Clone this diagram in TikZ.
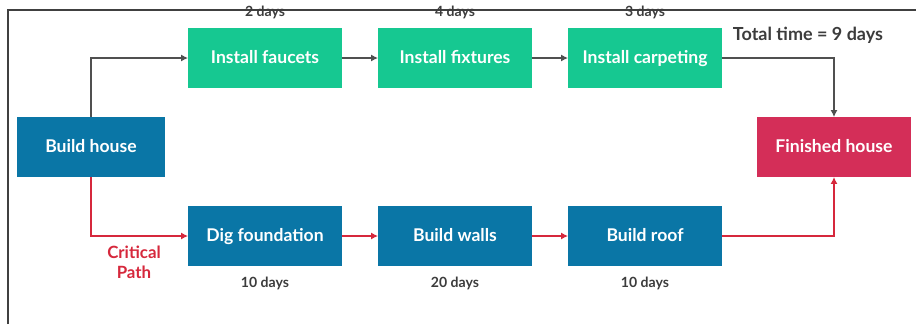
\documentclass[tikz,border=0pt]{standalone}
\usepackage{fontspec}
\setmainfont{Lato}
\usetikzlibrary{arrows.meta}
\definecolor{taskgreen}{RGB}{22,200,145}
\definecolor{taskblue}{RGB}{10,118,166}
\definecolor{donered}{RGB}{212,46,88}
\definecolor{critred}{RGB}{214,40,60}
\definecolor{linegray}{RGB}{80,80,80}
\definecolor{textgray}{RGB}{60,60,60}
\tikzset{
	task/.style={draw=none, minimum width=3.83cm, minimum height=1.48cm, text height=1.6ex, text depth=0ex, text=white, font=\bfseries\fontsize{12.5}{15}\selectfont},
	greentask/.style={task, fill=taskgreen},
	bluetask/.style={task, fill=taskblue},
	days/.style={text=textgray, text height=1.6ex, text depth=0.4ex, font=\bfseries\fontsize{10}{12}\selectfont},
	flow/.style={draw=linegray, line width=1.2pt, -{Latex[length=5pt,width=5pt]}},
	critflow/.style={draw=critred, line width=1.2pt, -{Latex[length=5pt,width=5pt]}}
}

\begin{document}
\begin{tikzpicture}[x=0.025cm, y=-0.025cm]
		%%%%% START %%%%%
		\useasboundingbox (0, 0) rectangle (916, 324);
		
		\draw[line width=0.8pt, color=black!75] (8, 324) -- (8, 10) -- (916, 10);
		
		\node[bluetask, minimum width=3.7cm] (build) at (91, 147) {Build house};
		\node[task, fill=donered] (finish) at (834, 147) {Finished house};
		
		\node[greentask] (faucets) at (265, 58) {Install faucets};
		\node[greentask] (fixtures) at (455, 58) {Install fixtures};
		\node[greentask] (carpet) at (645, 58) {Install carpeting};
		
		\node[bluetask] (dig) at (265, 236) {Dig foundation};
		\node[bluetask] (walls) at (455, 236) {Build walls};
		\node[bluetask] (roof) at (645, 236) {Build roof};
		
		\node[days] (tfaucets) at (265, 12) {2 days};
		\node[days] (tfixtures) at (455, 12) {4 days};
		\node[days] (tcarpet) at (645, 12) {3 days};
		\node[days] (tdig) at (265, 283) {10 days};
		\node[days] (twalls) at (455, 283) {20 days};
		\node[days] (troof) at (645, 283) {10 days};
		
		\node[text=textgray, font=\bfseries\fontsize{12.8}{15}\selectfont] (total) at (808, 35) {Total time = 9 days};
		\node[text=critred, align=center, font=\bfseries\fontsize{12}{14.5}\selectfont] (crit) at (134, 262) {Critical\\Path};
		
		\draw[flow] (build.north) |- (faucets.west);
		\draw[flow] (faucets) -- (fixtures);
		\draw[flow] (fixtures) -- (carpet);
		\draw[flow] (carpet.east) -| (finish.north);
		
		\draw[critflow] (build.south) |- (dig.west);
		\draw[critflow] (dig) -- (walls);
		\draw[critflow] (walls) -- (roof);
		\draw[critflow] (roof.east) -| (finish.south);
		%%%%% END %%%%%
\end{tikzpicture}
\end{document}
